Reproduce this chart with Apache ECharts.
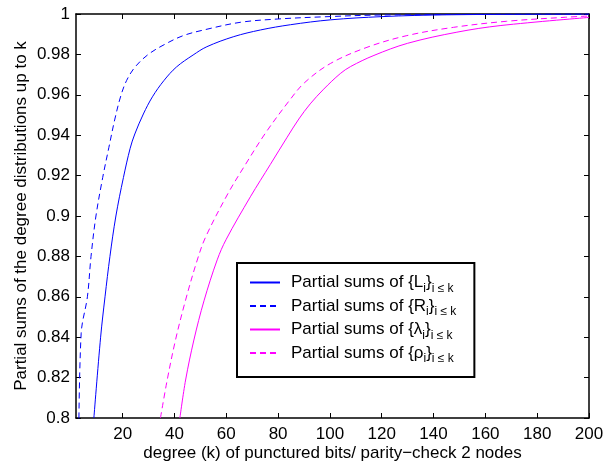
<!DOCTYPE html>
<html><head><meta charset="utf-8">
<script src="https://cdn.jsdelivr.net/npm/echarts@6/dist/echarts.min.js"></script>
<style>html,body{margin:0;padding:0;background:#fff}#c{width:613px;height:462px}</style>
</head><body><div id="c"></div>
<script>
// Partial sums of {L_i}
const lX = [8.9, 11.5, 13.2, 15.1, 17.4, 20.3, 22.9, 24.7, 28, 31.5, 35.9, 40.8, 47.2, 52.5, 62.9, 73.2, 84.8, 100.2, 120, 145, 200];
const lY = [0.8, 0.84, 0.86, 0.88, 0.9, 0.919, 0.9335, 0.9406, 0.9505, 0.959, 0.967, 0.9738, 0.9797, 0.9838, 0.9888, 0.9921, 0.9947, 0.9971, 0.9987, 0.9996, 1.0];
// Partial sums of {R_i}
const rX = [3, 4, 6.4, 7.8, 9.7, 12.3, 14.7, 17, 19.3, 21.5, 24.7, 29.9, 36.3, 43.4, 52, 65.5, 79.6, 97.5, 120, 200];
const rY = [0.78, 0.842, 0.860, 0.880, 0.900, 0.919, 0.934, 0.948, 0.9595, 0.967, 0.9736, 0.980, 0.985, 0.9893, 0.9923, 0.9959, 0.9975, 0.9986, 0.9995, 1.0];
// Partial sums of {lambda_i}
const lamX = [42.1, 44.3, 47.5, 51.4, 56.5, 60, 69.3, 77, 83.5, 88, 92.4, 97.6, 104, 108, 117, 130, 149, 166, 200];
const lamY = [0.8, 0.8188, 0.8386, 0.858, 0.8783, 0.8885, 0.9095, 0.9255, 0.939, 0.948, 0.9555, 0.9628, 0.9705, 0.974, 0.9795, 0.9855, 0.991, 0.9943, 0.9983];
// Partial sums of {rho_i}
const rhoX = [34.6, 37.2, 40.4, 44.3, 48.8, 52, 60.6, 67.4, 75.1, 84.5, 90.2, 100.2, 114.3, 129.7, 147.7, 168.2, 191, 200];
const rhoY = [0.8, 0.8188, 0.8386, 0.8584, 0.8782, 0.8895, 0.911, 0.9255, 0.941, 0.9574, 0.966, 0.9755, 0.9835, 0.9893, 0.9934, 0.9964, 0.9984, 0.999];

const xTicks = [20, 40, 60, 80, 100, 120, 140, 160, 180, 200];
const names = ['L', 'R', 'λ', 'ρ'];
const xTitle = 'degree (k) of punctured bits/ parity\u2212check 2 nodes';
const yTitle = 'Partial sums of the degree distributions up to k';

const FONT = '"Liberation Sans", Arial, Helvetica, sans-serif';
const pair = (xs, ys) => xs.map((x, i) => [x, ys[i]]);

const chart = echarts.init(document.getElementById('c'), null, {renderer: 'canvas'});
const axisBase = {
  axisLine: {show: true, onZero: false, lineStyle: {color: '#000', width: 1.5}},
  splitLine: {show: false}
};
const mk = (name, xs, ys, color, dashed) => ({
  name, type: 'line', data: pair(xs, ys), showSymbol: false, symbol: 'none',
  smooth: 0.35, clip: true, animation: false,
  lineStyle: {color, width: 1, type: dashed ? [6, 4] : 'solid'},
  itemStyle: {color}
});
chart.setOption({
  animation: false,
  backgroundColor: '#fff',
  grid: {left: 76, top: 14, right: 24, bottom: 44, containLabel: false, outerBoundsMode: 'none'},
  xAxis: [
    Object.assign({}, axisBase, {
      type: 'value', min: 2, max: 200, position: 'bottom',
      name: xTitle, nameLocation: 'middle', nameGap: 27, nameMoveOverlap: false,
      nameTextStyle: {color: '#000', fontSize: 17, fontFamily: FONT},
      axisTick: {show: true, inside: true, length: 5, customValues: xTicks, lineStyle: {color: '#000'}},
      axisLabel: {show: true, customValues: xTicks, color: '#000', fontSize: 17, fontFamily: FONT, margin: 8}
    }),
    Object.assign({}, axisBase, {
      type: 'value', min: 2, max: 200, position: 'top',
      axisTick: {show: true, inside: true, length: 5, customValues: xTicks, lineStyle: {color: '#000'}},
      axisLabel: {show: false}
    })
  ],
  yAxis: [
    Object.assign({}, axisBase, {
      type: 'value', min: 0.8, max: 1, interval: 0.02, position: 'left',
      name: yTitle, nameLocation: 'middle', nameGap: 46, nameRotate: 90, nameMoveOverlap: false,
      nameTextStyle: {color: '#000', fontSize: 17, fontFamily: FONT},
      axisTick: {show: true, inside: true, length: 5, lineStyle: {color: '#000'}},
      axisLabel: {show: true, color: '#000', fontSize: 17, fontFamily: FONT, margin: 6,
        formatter: v => String(+v.toFixed(2))}
    }),
    Object.assign({}, axisBase, {
      type: 'value', min: 0.8, max: 1, interval: 0.02, position: 'right',
      axisTick: {show: true, inside: true, length: 5, lineStyle: {color: '#000'}},
      axisLabel: {show: false}
    })
  ],
  legend: {
    show: true, orient: 'vertical', left: 237, top: 263,
    padding: [11, 18, 12, 12], itemGap: 3, itemWidth: 30, itemHeight: 12,
    borderColor: '#000', borderWidth: 2, backgroundColor: '#fff',
    itemStyle: {opacity: 0},
    data: names,
    formatter: n => '{n|Partial sums of {' + n + '}{s|i}}{s|i \u2264 k}',
    textStyle: {
      color: '#000', fontSize: 17, fontFamily: FONT, padding: [0, 0, 0, 6],
      rich: {
        n: {fontSize: 17, fontFamily: FONT, color: '#000', lineHeight: 24, verticalAlign: 'middle'},
        s: {fontSize: 12, fontFamily: FONT, color: '#000', lineHeight: 10, verticalAlign: 'bottom'}
      }
    }
  },
  series: [
    mk('L', lX, lY, '#0000ff', false),
    mk('R', rX, rY, '#0000ff', true),
    mk('λ', lamX, lamY, '#ff00ff', false),
    mk('ρ', rhoX, rhoY, '#ff00ff', true)
  ]
});
</script>
</body></html>
